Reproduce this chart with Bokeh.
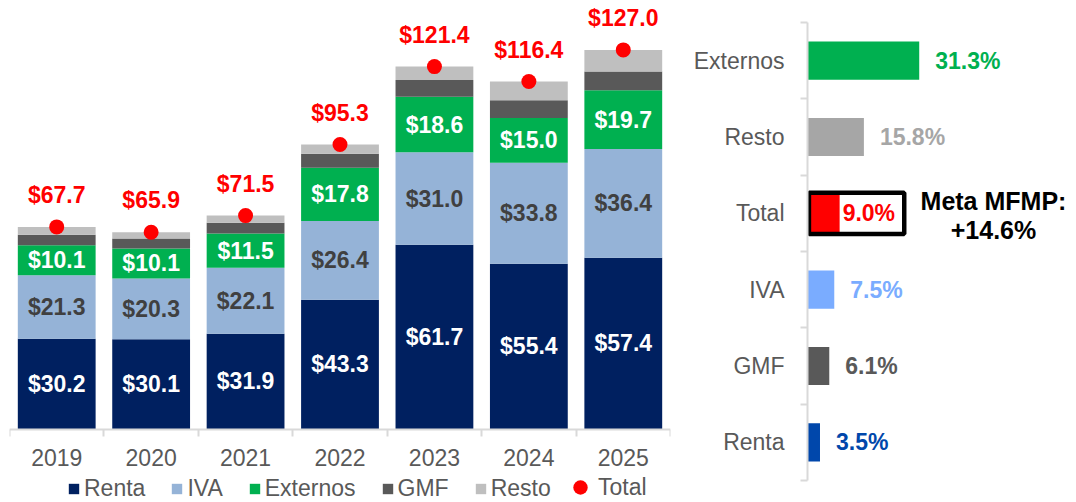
from bokeh.plotting import figure
from bokeh.models import (Range1d, LinearAxis, FixedTicker, Legend,
                          LegendItem, ColumnDataSource)
from bokeh.layouts import row
from bokeh.embed import file_html
from bokeh.resources import INLINE
from bokeh.core.properties import value

# ---------------- data ----------------
years = ["2019", "2020", "2021", "2022", "2023", "2024", "2025"]
renta = [30.2, 30.1, 31.9, 43.3, 61.7, 55.4, 57.4]
iva = [21.3, 20.3, 22.1, 26.4, 31.0, 33.8, 36.4]
externos = [10.1, 10.1, 11.5, 17.8, 18.6, 15.0, 19.7]
gmf = [3.5, 3.3, 3.6, 4.7, 5.6, 5.9, 6.3]
resto = [2.6, 2.1, 2.4, 3.1, 4.5, 6.3, 7.2]
total = [67.7, 65.9, 71.5, 95.3, 121.4, 116.4, 127.0]

growth_cats = ["Renta", "GMF", "IVA", "Total", "Resto", "Externos"]
growth = [3.5, 6.1, 7.5, 9.0, 15.8, 31.3]
meta_lines = ["Meta MFMP:", "+14.6%"]

# ---------------- style ----------------
FONT = "Liberation Sans"
GRAY_TXT = "#595959"
AXIS_GRAY = "#D9D9D9"
H = 500
stack_names = ["Renta", "IVA", "Externos", "GMF", "Resto"]
stack_colors = ["#002060", "#95B3D7", "#00B050", "#595959", "#BFBFBF"]
growth_colors = ["#0047AB", "#595959", "#7AACFF", "#FF0000", "#A6A6A6", "#00B050"]
label_gap = [16, 16, 16, 3, 16, 16]


def style_axis(ax, size, standoff):
    ax.axis_line_color = AXIS_GRAY
    ax.axis_line_width = 2
    ax.major_tick_line_color = None
    ax.major_tick_out = 0
    ax.major_tick_in = 0
    ax.minor_tick_line_color = AXIS_GRAY
    ax.minor_tick_line_width = 2
    ax.minor_tick_out = 7
    ax.minor_tick_in = 0
    ax.major_label_text_font = FONT
    ax.major_label_text_font_size = size
    ax.major_label_text_color = GRAY_TXT
    ax.major_label_standoff = standoff


# ---------------- left: stacked bars ----------------
n = len(years)
xs = [i + 0.5 for i in range(n)]  # slot centres of the year categories

p = figure(x_range=Range1d(0, n), y_range=Range1d(-23.95, 143.55),
           width=688, height=H, output_backend="svg", toolbar_location=None,
           x_axis_location=None, y_axis_location=None,
           min_border_left=9, min_border_top=0, min_border_right=18, min_border_bottom=0)
p.outline_line_color = None
p.grid.visible = False

src = ColumnDataSource(dict(x=xs, Renta=renta, IVA=iva, Externos=externos,
                            GMF=gmf, Resto=resto, total=total))
bars = p.vbar_stack(stack_names, x="x", width=0.824, color=stack_colors,
                    line_width=0, source=src)

renta_mid = [r / 2 for r in renta]
iva_mid = [r + i / 2 for r, i in zip(renta, iva)]
ext_mid = [r + i + e / 2 for r, i, e in zip(renta, iva, externos)]
for vals, mids, col in [(renta, renta_mid, "white"), (iva, iva_mid, "#404040"),
                        (externos, ext_mid, "white")]:
    p.text(x=xs, y=mids, text=[f"${v:.1f}" for v in vals],
           text_align="center", text_baseline="middle",
           text_font=value(FONT), text_font_size="23px", text_font_style="bold",
           text_color=col)

dots = p.scatter(x="x", y="total", size=15, color="#FF0000", line_width=0, source=src)
p.text(x=xs, y=total, text=[f"${v:.1f}" for v in total], y_offset=-32,
       text_align="center", text_baseline="middle",
       text_font=value(FONT), text_font_size="23px", text_font_style="bold",
       text_color="#FF0000")

xax = LinearAxis(ticker=FixedTicker(ticks=xs, minor_ticks=list(range(n + 1))),
                 major_label_overrides={x: y for x, y in zip(xs, years)},
                 fixed_location=0)
style_axis(xax, "23px", 13)
p.add_layout(xax, "below")

bar_items = [LegendItem(label=nm, renderers=[r]) for nm, r in zip(stack_names, bars)]
legend_kw = dict(orientation="horizontal", label_text_font=FONT,
                 label_text_font_size="23px", label_text_color=GRAY_TXT,
                 padding=0, margin=0, border_line_color=None, background_fill_alpha=0)
leg1 = Legend(items=bar_items, location=(58, -2), glyph_width=13, glyph_height=13,
              label_standoff=4, spacing=25, **legend_kw)
leg2 = Legend(items=[LegendItem(label="Total", renderers=[dots])], location=(553, -5),
              glyph_width=36, glyph_height=36, label_standoff=-3, **legend_kw)
p.add_layout(leg1, "center")
p.add_layout(leg2, "center")

# ---------------- right: growth bars ----------------
m = len(growth_cats)
ys = [i + 0.5 for i in range(m)]  # slot centres of the growth categories
total_y = ys[growth_cats.index("Total")]

q = figure(x_range=Range1d(0, 74.8), y_range=Range1d(-0.262, 6.288),
           width=386, height=H, output_backend="svg", toolbar_location=None,
           x_axis_location=None, y_axis_location=None,
           min_border_left=119, min_border_right=0, min_border_top=0, min_border_bottom=0)
q.outline_line_color = None
q.grid.visible = False

q.hbar(y=ys, left=0, right=growth, height=0.5, color=growth_colors, line_width=0)
q.rect(x=[13.75], y=[total_y], width=26.7, height=0.54, fill_color=None,
       line_color="black", line_width=4.5)
q.text(x=growth, y=ys, x_offset=label_gap, text=[f"{g:.1f}%" for g in growth],
       text_align="left", text_baseline="middle",
       text_font=value(FONT), text_font_size="23px", text_font_style="bold",
       text_color=growth_colors)
q.text(x=[52.1, 52.1], y=[total_y, total_y], y_offset=[-12, 17], text=meta_lines,
       text_align="center", text_baseline="middle",
       text_font=value(FONT), text_font_size="25px", text_font_style="bold",
       text_color="black")

yax = LinearAxis(ticker=FixedTicker(ticks=ys, minor_ticks=list(range(m + 1))),
                 major_label_overrides={y: c for y, c in zip(ys, growth_cats)},
                 bounds=(0, m))
style_axis(yax, "23px", 16)
q.add_layout(yax, "left")

layout = row(p, q)
open("out.html", "w").write(file_html(layout, INLINE))
